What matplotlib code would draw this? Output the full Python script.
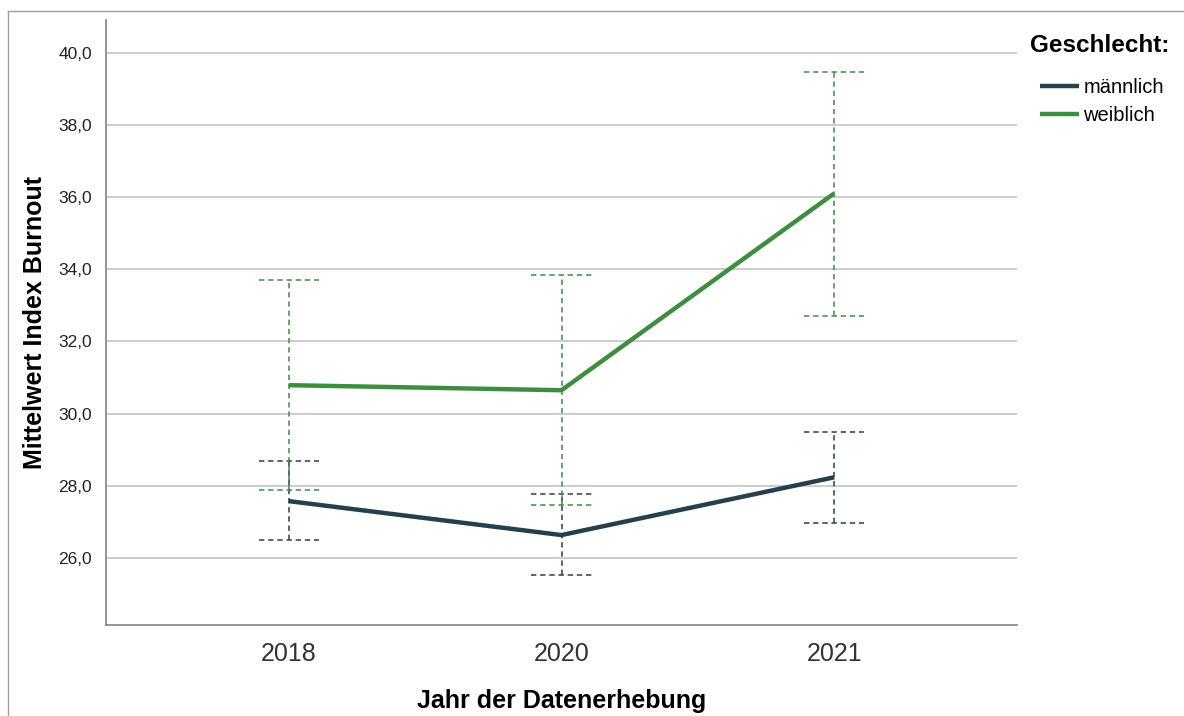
import numpy as np
import matplotlib.pyplot as plt
from matplotlib.lines import Line2D

plt.rcParams['font.family'] = ['Liberation Sans', 'DejaVu Sans']

years = ['2018', '2020', '2021']
groups = ['männlich', 'weiblich']

male_mean = [27.58, 26.64, 28.24]
male_low = [26.50, 25.53, 26.97]
male_high = [28.68, 27.77, 29.49]

female_mean = [30.79, 30.65, 36.10]
female_low = [27.88, 27.47, 32.70]
female_high = [33.69, 33.83, 39.45]

y_ticks = [26, 28, 30, 32, 34, 36, 38, 40]

colors = {'männlich': '#273f4c', 'weiblich': '#3f8d41'}
cap = 0.11

fig = plt.figure(figsize=(11.84, 7.16), dpi=100)
ax = fig.add_axes([106 / 1184, 1 - 625 / 716, (1017 - 106) / 1184, (625 - 20) / 716])

x = np.arange(len(years))
series = [
    ('männlich', male_mean, male_low, male_high),
    ('weiblich', female_mean, female_low, female_high),
]

for name, mean, low, high in series:
    c = colors[name]
    ax.plot(x, mean, color=c, lw=3.2, solid_capstyle='butt', label=name, zorder=4)
    ax.vlines(x, low, high, colors=c, lw=1.1, linestyles=(0, (3.5, 2.5)), zorder=3)
    ax.hlines(low, x - cap, x + cap, colors=c, lw=1.1, linestyles=(0, (3.5, 2.5)), zorder=3)
    ax.hlines(high, x - cap, x + cap, colors=c, lw=1.1, linestyles=(0, (3.5, 2.5)), zorder=3)

ax.set_xlim(-0.67, 2.67)
ax.set_ylim(24.15, 40.9)
ax.set_xticks(x)
ax.set_xticklabels(years, fontsize=18, color='#333333')
ax.set_yticks(y_ticks)
ax.set_yticklabels(['%d,0' % v for v in y_ticks], fontsize=12.5, color='#222222')
ax.tick_params(axis='both', length=0)
ax.tick_params(axis='y', pad=10)
ax.tick_params(axis='x', pad=12)

ax.grid(axis='y', color='#c8c8c8', lw=1.3)
ax.set_axisbelow(True)
for s in ['top', 'right']:
    ax.spines[s].set_visible(False)
for s in ['left', 'bottom']:
    ax.spines[s].set_color('#8c8c8c')
    ax.spines[s].set_linewidth(1.3)

ax.set_ylabel('Mittelwert Index Burnout', fontsize=18, fontweight='bold', labelpad=8)
ax.set_xlabel('Jahr der Datenerhebung', fontsize=18, fontweight='bold', labelpad=17)

fig.text(1030 / 1184, 1 - 45 / 716, 'Geschlecht:', fontsize=17.5, fontweight='bold',
         ha='left', va='center')
leg = fig.legend(loc='upper left', bbox_to_anchor=(1040 / 1184, 1 - 78 / 716),
                 frameon=False, fontsize=14.5,
                 handlelength=1.95, handletextpad=0.2, labelspacing=0.45,
                 borderaxespad=0, borderpad=0)
for h in leg.get_lines():
    h.set_linewidth(3.2)

# outer frame
fig.add_artist(Line2D([8 / 1184, 1], [1 - 11 / 716, 1 - 11 / 716], color='#a0a0a0', lw=1))
fig.add_artist(Line2D([8 / 1184, 8 / 1184], [0, 1 - 11 / 716], color='#a0a0a0', lw=1))

fig.savefig('out.png', dpi=100)
